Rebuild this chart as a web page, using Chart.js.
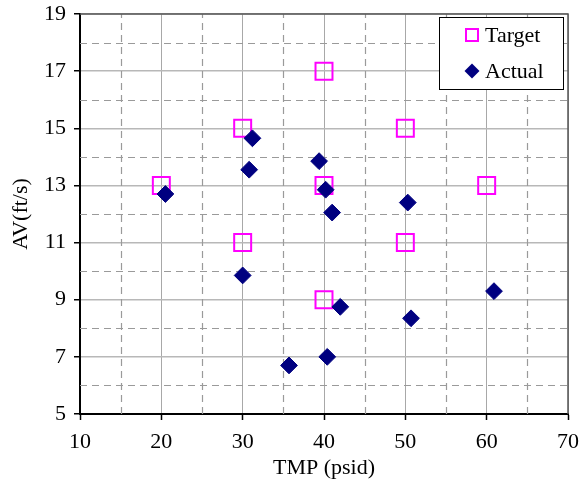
<!DOCTYPE html>
<html><head><meta charset="utf-8">
<script src="https://cdn.jsdelivr.net/npm/chart.js@4.4.1/dist/chart.umd.min.js"></script>
<style>html,body{margin:0;padding:0;background:#fff}</style>
</head><body>
<canvas id="c" width="582" height="487"></canvas>
<script>
// Target operating points and measured results
const targetTMP = [20, 30, 30, 40, 40, 40, 50, 50, 60];
const targetAV  = [13, 15, 11, 17, 13, 9, 15, 11, 13];
const actualTMP = [20.5, 31.2, 30.8, 30.0, 35.7, 39.4, 40.2, 41.0, 50.3, 42.0, 40.4, 50.7, 60.9];
const actualAV  = [12.7, 14.65, 13.55, 9.85, 6.7, 13.85, 12.85, 12.05, 12.4, 8.75, 7.0, 8.35, 9.3];
const xTicks = [10, 20, 30, 40, 50, 60, 70];
const yTicks = [5, 7, 9, 11, 13, 15, 17, 19];

const FONT = 'Liberation Serif, "Times New Roman", serif';
const toPoints = (xs, ys) => xs.map((x, i) => ({ x, y: ys[i] }));
const midpoints = arr => arr.slice(1).map((v, i) => (v + arr[i]) / 2);

// dashed minor grid between the major ticks, plus the light frame on top/right
const minorGrid = {
  id: 'minorGrid',
  beforeDatasetsDraw(chart) {
    const { ctx, chartArea: a, scales: { x, y } } = chart;
    ctx.save();
    ctx.strokeStyle = '#9a9a9a';
    ctx.lineWidth = 1.2;
    ctx.setLineDash([7, 5]);
    midpoints(xTicks).forEach(v => {
      const px = Math.round(x.getPixelForValue(v)) + 0.5;
      ctx.beginPath(); ctx.moveTo(px, a.bottom); ctx.lineTo(px, a.top); ctx.stroke();
    });
    midpoints(yTicks).forEach(v => {
      const py = Math.round(y.getPixelForValue(v)) + 0.5;
      ctx.beginPath(); ctx.moveTo(a.left, py); ctx.lineTo(a.right, py); ctx.stroke();
    });
    ctx.setLineDash([]);
    ctx.strokeStyle = '#555';
    ctx.lineWidth = 1.5;
    ctx.beginPath();
    ctx.moveTo(a.left, a.top); ctx.lineTo(a.right, a.top); ctx.lineTo(a.right, a.bottom);
    ctx.stroke();
    ctx.restore();
  }
};

// boxed legend in the upper right corner of the plot
const boxLegend = {
  id: 'boxLegend',
  afterDraw(chart) {
    const { ctx, chartArea: a } = chart;
    const w = 124, h = 72;
    const bx = a.right - 5 - w, by = a.top + 3;
    ctx.save();
    ctx.fillStyle = '#fff';
    ctx.fillRect(bx, by, w, h);
    ctx.strokeStyle = '#000';
    ctx.lineWidth = 1;
    ctx.strokeRect(bx + 0.5, by + 0.5, w, h);
    ctx.font = '22px ' + FONT;
    ctx.fillStyle = '#000';
    ctx.textBaseline = 'middle';
    chart.data.datasets.forEach((ds, i) => {
      const cy = by + 18 + i * 36;
      const mx = bx + 33;
      if (ds.pointStyle === 'rect') {
        ctx.strokeStyle = ds.borderColor;
        ctx.lineWidth = 2;
        ctx.strokeRect(mx - 6, cy - 6, 12, 12);
      } else {
        ctx.fillStyle = ds.backgroundColor;
        ctx.beginPath();
        ctx.moveTo(mx - 7.5, cy); ctx.lineTo(mx, cy - 7.5);
        ctx.lineTo(mx + 7.5, cy); ctx.lineTo(mx, cy + 7.5);
        ctx.closePath(); ctx.fill();
        ctx.fillStyle = '#000';
      }
      ctx.fillText(ds.label, bx + 46, cy + 1);
    });
    ctx.restore();
  }
};

new Chart(document.getElementById('c'), {
  type: 'scatter',
  data: {
    datasets: [
      {
        label: 'Target',
        data: toPoints(targetTMP, targetAV),
        pointStyle: 'rect',
        pointRadius: 12,
        pointHoverRadius: 12,
        borderColor: '#ff00ff',
        backgroundColor: 'rgba(0,0,0,0)',
        borderWidth: 2,
        order: 2
      },
      {
        label: 'Actual',
        data: toPoints(actualTMP, actualAV),
        pointStyle: 'rectRot',
        pointRadius: 8.4,
        pointHoverRadius: 8.4,
        borderColor: '#000080',
        backgroundColor: '#000080',
        borderWidth: 1,
        order: 1
      }
    ]
  },
  options: {
    responsive: false,
    animation: false,
    events: [],
    layout: { padding: { left: 0, right: 14, top: 14, bottom: 0 } },
    plugins: { legend: { display: false }, tooltip: { enabled: false } },
    scales: {
      x: {
        type: 'linear',
        min: 10, max: 70,
        afterBuildTicks: s => { s.ticks = xTicks.map(v => ({ value: v })); },
        afterFit: s => { s.height = 73; s.paddingLeft = 0; s.paddingRight = 0; },
        grid: { color: '#a8a8a8', lineWidth: 1, tickLength: 6, tickColor: '#000', tickWidth: 1.5 },
        border: { color: '#000', width: 2 },
        ticks: { font: { family: FONT, size: 22 }, color: '#000', padding: 9, maxRotation: 0 },
        title: { display: true, text: 'TMP (psid)', font: { family: FONT, size: 22 }, color: '#000',
                 padding: { top: 0, bottom: 6 } }
      },
      y: {
        type: 'linear',
        min: 5, max: 19,
        afterBuildTicks: s => { s.ticks = yTicks.map(v => ({ value: v })); },
        afterFit: s => { s.width = 80; s.paddingTop = 0; s.paddingBottom = 0; },
        grid: { color: '#b8b8b8', lineWidth: 1.5, tickLength: 6, tickColor: '#000', tickWidth: 1.5 },
        border: { color: '#000', width: 2 },
        ticks: { font: { family: FONT, size: 22 }, color: '#000', padding: 8 },
        title: { display: true, text: 'AV(ft/s)', font: { family: FONT, size: 22 }, color: '#000',
                 padding: { top: 8, bottom: 0 } }
      }
    }
  },
  plugins: [minorGrid, boxLegend]
});
</script>
</body></html>
